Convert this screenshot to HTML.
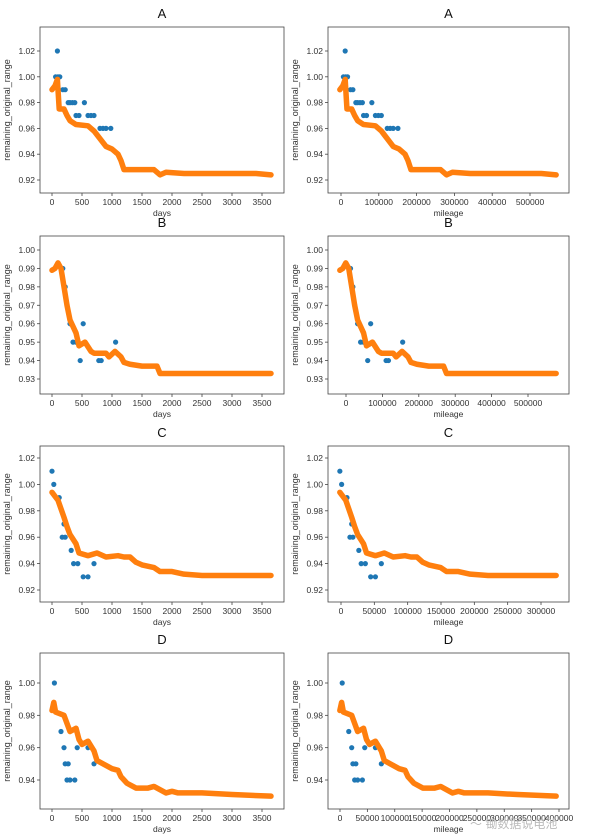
<!DOCTYPE html>
<html><head><meta charset="utf-8"><style>
body{margin:0;background:#fff;}
svg text{font-family:"Liberation Sans",sans-serif;fill:#333;}
</style></head><body>
<svg id="s" width="600" height="835" xmlns="http://www.w3.org/2000/svg"></svg>
<script>
const S=document.getElementById('s');let h='';
const P={
A:{t:27,b:193,v1:[1.02,51],v2:[0.92,180],yt:[1.02,1.00,0.98,0.96,0.94,0.92],
c:[[0,.99],[50,.993],[90,.998],[100,.99],[120,.975],[200,.975],[250,.97],[300,.966],[400,.963],[600,.962],[700,.958],[800,.952],[900,.946],[1000,.944],[1100,.94],[1150,.935],[1200,.928],[1700,.928],[1800,.924],[1900,.926],[2200,.925],[3400,.925],[3650,.924]],
d:[[90,1.02],[60,1],[100,1],[130,1],[180,.99],[220,.99],[270,.98],[300,.98],[340,.98],[380,.98],[540,.98],[400,.97],[450,.97],[600,.97],[650,.97],[700,.97],[800,.96],[850,.96],[900,.96],[980,.96]],
mt:[0,100000,200000,300000,400000,500000],m0:341,m1:530},
B:{t:236,b:394,v1:[1.00,250],v2:[0.93,379],yt:[1.00,.99,.98,.97,.96,.95,.94,.93],
c:[[0,.989],[50,.99],[100,.993],[150,.99],[200,.98],[250,.97],[300,.962],[400,.955],[450,.948],[550,.95],[650,.945],[700,.944],[900,.944],[950,.942],[1050,.945],[1150,.942],[1200,.939],[1300,.938],[1500,.937],[1750,.937],[1800,.933],[3650,.933]],
d:[[180,.99],[220,.98],[300,.96],[350,.95],[400,.95],[470,.94],[520,.96],[780,.94],[820,.94],[1060,.95]],
mt:[0,100000,200000,300000,400000,500000],m0:346,m1:528},
C:{t:446,b:602,v1:[1.02,458],v2:[0.92,590],yt:[1.02,1.00,.98,.96,.94,.92],
c:[[0,.994],[100,.988],[200,.975],[250,.968],[300,.962],[400,.955],[450,.948],[600,.946],[750,.948],[900,.945],[1100,.946],[1200,.945],[1300,.945],[1400,.941],[1500,.939],[1700,.937],[1800,.934],[2000,.934],[2200,.932],[2500,.931],[3650,.931]],
d:[[0,1.01],[30,1],[120,.99],[200,.97],[170,.96],[220,.96],[320,.95],[360,.94],[430,.94],[520,.93],[600,.93],[700,.94]],
mt:[0,50000,100000,150000,200000,250000,300000],m0:341,m1:541},
D:{t:653,b:809,v1:[1.00,683],v2:[0.94,780],yt:[1.00,.98,.96,.94],
c:[[0,.983],[30,.988],[60,.982],[200,.98],[250,.975],[300,.97],[400,.972],[450,.965],[500,.962],[600,.964],[700,.958],[750,.952],[900,.949],[1000,.947],[1100,.946],[1150,.942],[1250,.938],[1400,.935],[1600,.935],[1700,.936],[1800,.934],[1900,.932],[2000,.933],[2100,.932],[2500,.932],[3000,.931],[3650,.93]],
d:[[40,1],[150,.97],[200,.96],[220,.95],[250,.94],[270,.95],[300,.94],[380,.94],[420,.96],[600,.96],[700,.95]],
mt:[0,50000,100000,150000,200000,250000,300000,350000,400000],m0:340,m1:559}
};
for(const k in P){const p=P[k];
 const ym=v=>p.v1[1]+(v-p.v1[0])*(p.v2[1]-p.v1[1])/(p.v2[0]-p.v1[0]);
 for(const side of [0,1]){
  const x0=side?328:40,x1=side?569:284;
  const xm=d=>side?(328+(52+d*0.06-40)*241/244):52+d*0.06;
  h+=`<text x="${(x0+x1)/2}" y="${p.t-9}" font-size="13" text-anchor="middle" style="fill:#111">${k}</text>`;
  h+=`<rect x="${x0}" y="${p.t}" width="${x1-x0}" height="${p.b-p.t}" fill="none" stroke="#444" stroke-width="0.8"/>`;
  for(const v of p.yt){const y=ym(v);h+=`<line x1="${x0-3}" x2="${x0}" y1="${y}" y2="${y}" stroke="#444" stroke-width=".8"/><text x="${x0-5}" y="${y+3}" font-size="8.5" text-anchor="end">${v.toFixed(2)}</text>`;}
  if(!side){for(let d=0;d<=3500;d+=500){const x=xm(d);h+=`<line x1="${x}" x2="${x}" y1="${p.b}" y2="${p.b+3}" stroke="#444" stroke-width=".8"/><text x="${x}" y="${p.b+12}" font-size="8.5" text-anchor="middle">${d}</text>`;}}
  else{const n=p.mt.length-1;p.mt.forEach((m,i)=>{const x=p.m0+(p.m1-p.m0)*i/n;h+=`<line x1="${x}" x2="${x}" y1="${p.b}" y2="${p.b+3}" stroke="#444" stroke-width=".8"/><text x="${x}" y="${p.b+12}" font-size="8.5" text-anchor="middle">${m}</text>`;});}
  h+=`<text x="${(x0+x1)/2}" y="${p.b+23}" font-size="8.5" text-anchor="middle">${side?'mileage':'days'}</text>`;
  const yc=(p.t+p.b)/2;h+=`<text transform="translate(${x0-30},${yc}) rotate(-90)" font-size="9" text-anchor="middle">remaining_original_range</text>`;
  for(const [d,v] of p.d)h+=`<circle cx="${xm(d)}" cy="${ym(v)}" r="2.6" fill="#1f77b4"/>`;
  let pts='';p.c.forEach(([d,v],i)=>{pts+=` ${xm(d)},${ym(v)}`;});
  h+=`<polyline points="${pts}" fill="none" stroke="#ff7f0e" stroke-width="5.5" stroke-linejoin="round" stroke-linecap="round"/>`;
 }}
h+=`<text x="470" y="828" font-size="12" style="fill:#bbb" font-family="Noto Sans CJK SC">〜 锄数据说电池</text>`;
S.innerHTML=h;
</script>
</body></html>
